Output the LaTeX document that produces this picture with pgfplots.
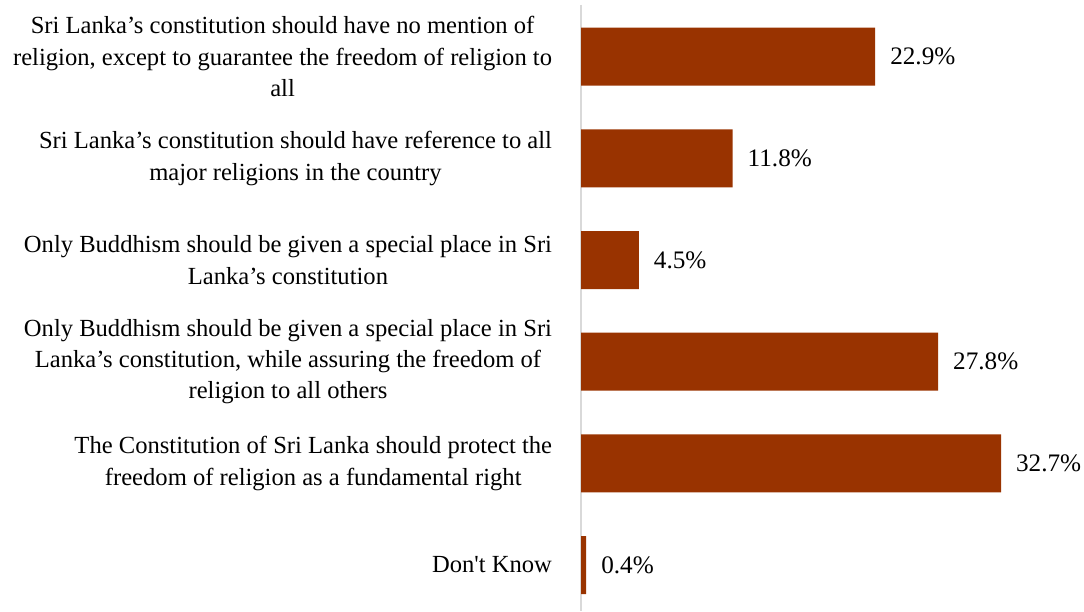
\documentclass[border=0pt]{standalone}
\usepackage{fontspec}
\setmainfont{Liberation Serif}
\usepackage{pgfplots}
\pgfplotsset{compat=1.18}
\definecolor{barc}{HTML}{993300}
\definecolor{axc}{HTML}{D9D9D9}
\begin{document}
\begin{tikzpicture}
\begin{axis}[
  scale only axis,
  width=250.5pt, height=303pt,
  xbar, bar width=29pt,
  xmin=0, xmax=39,
  ymin=-0.51, ymax=5.45,
  y dir=reverse,
  axis x line=none,
  axis y line*=left,
  y axis line style={draw=axc, line width=1pt},
  ytick={0,1,2,3,4,5},
  major tick length=0pt,
  yticklabels={
    {Sri Lanka’s constitution should have no mention of\\religion, except to guarantee the freedom of religion to\\all},
    {Sri Lanka’s constitution should have reference to all\\major religions in the country},
    {Only Buddhism should be given a special place in Sri\\Lanka’s constitution},
    {Only Buddhism should be given a special place in Sri\\Lanka’s constitution, while assuring the freedom of\\religion to all others},
    {The Constitution of Sri Lanka should protect the\\freedom of religion as a fundamental right},
    {Don\textquotesingle t Know}
  },
  yticklabel style={align=center, font=\fontsize{12.3pt}{15.7pt}\selectfont, xshift=-11pt},
  nodes near coords={\pgfmathprintnumber[fixed,precision=1,fixed zerofill]{\pgfplotspointmeta}\%},
  nodes near coords style={font=\fontsize{12.6pt}{14pt}\selectfont, anchor=west, xshift=4pt, text=black},
  /pgf/number format/assume math mode=true,
  point meta=explicit,
  clip=false,
]
\addplot[fill=barc, draw=none] table[x=v, y=c, meta=v] {
c v
0 22.9
1 11.8
2 4.5
3 27.8
4 32.7
5 0.4
};
\coordinate (bbsw) at (axis description cs:-1.16,-0.002);
\coordinate (bbne) at (axis description cs:1.004,1.008);
\end{axis}
\pgfresetboundingbox
\path (bbsw) rectangle (bbne);
\end{tikzpicture}
\end{document}
